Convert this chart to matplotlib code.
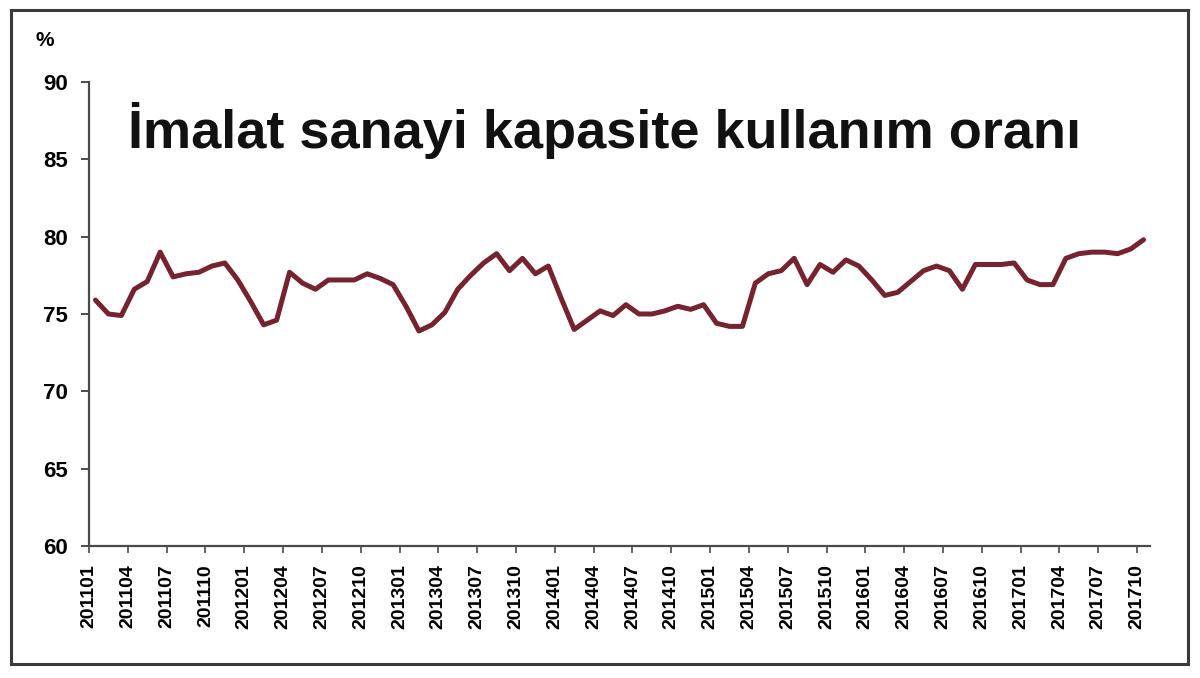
import matplotlib
matplotlib.use("Agg")
import matplotlib.pyplot as plt
from matplotlib.patches import Rectangle

# Categories: monthly periods 201101 .. 201710
months = [f"{y}{m:02d}" for y in range(2011, 2018) for m in range(1, 13)][:82]

# Capacity utilisation rate (%)
values = [
    75.9, 75.0, 74.9, 76.6, 77.1, 79.0, 77.4, 77.6, 77.7, 78.1, 78.3, 77.2,   # 2011
    75.8, 74.3, 74.6, 77.7, 77.0, 76.6, 77.2, 77.2, 77.2, 77.6, 77.3, 76.9,   # 2012
    75.5, 73.9, 74.3, 75.1, 76.6, 77.5, 78.3, 78.9, 77.8, 78.6, 77.6, 78.1,   # 2013
    76.0, 74.0, 74.6, 75.2, 74.9, 75.6, 75.0, 75.0, 75.2, 75.5, 75.3, 75.6,   # 2014
    74.4, 74.2, 74.2, 77.0, 77.6, 77.8, 78.6, 76.9, 78.2, 77.7, 78.5, 78.1,   # 2015
    77.2, 76.2, 76.4, 77.1, 77.8, 78.1, 77.8, 76.6, 78.2, 78.2, 78.2, 78.3,   # 2016
    77.2, 76.9, 76.9, 78.6, 78.9, 79.0, 79.0, 78.9, 79.2, 79.8,               # 2017
]

title = "İmalat sanayi kapasite kullanım oranı"
y_ticks = [60, 65, 70, 75, 80, 85, 90]
tick_step = 3

plt.rcParams['font.family'] = ['Liberation Sans', 'DejaVu Sans']

W, H = 1200, 678
fig = plt.figure(figsize=(W / 100, H / 100), dpi=100)
fig.patch.set_facecolor('white')

# outer frame
fig.patches.append(Rectangle((11 / W, 1 - 664 / H), (1188 - 11) / W, (664 - 10) / H,
                             transform=fig.transFigure, fill=False,
                             edgecolor='#3a3a3a', linewidth=2.2, zorder=0))

ax = fig.add_axes([89 / W, 1 - 546 / H, (1150 - 89) / W, (546 - 82) / H])
x = list(range(len(values)))
ax.plot(x, values, color='#76222f', linewidth=3.6, solid_joinstyle='round',
        solid_capstyle='round')

ax.set_ylim(60, 90)
ax.set_xlim(-0.5, len(values) - 0.5)
ax.set_yticks(y_ticks)
ax.set_yticklabels([str(v) for v in y_ticks], fontsize=16, fontweight='bold')

tick_idx = list(range(0, len(months), tick_step))
ax.set_xticks([i - 0.5 for i in tick_idx])
ax.set_xticklabels([months[i] for i in tick_idx], rotation=90, fontsize=14,
                   fontweight='bold', va='top', ha='center')

for side in ['top', 'right']:
    ax.spines[side].set_visible(False)
for side in ['left', 'bottom']:
    ax.spines[side].set_color('#4a4a4a')
    ax.spines[side].set_linewidth(1.6)
ax.tick_params(axis='y', direction='out', length=6, width=1.4, color='#4a4a4a', pad=9)
ax.tick_params(axis='x', direction='out', length=5, width=1.2, color='#4a4a4a', pad=8)

fig.text(45 / W, 1 - 40 / H, "%", fontsize=15, fontweight='bold',
         ha='center', va='center')

fig.text(605 / W, 1 - 148 / H, title, fontsize=39, fontweight='bold',
         ha='center', va='baseline', color='#111111')

fig.savefig("out.png", dpi=100, facecolor='white')
